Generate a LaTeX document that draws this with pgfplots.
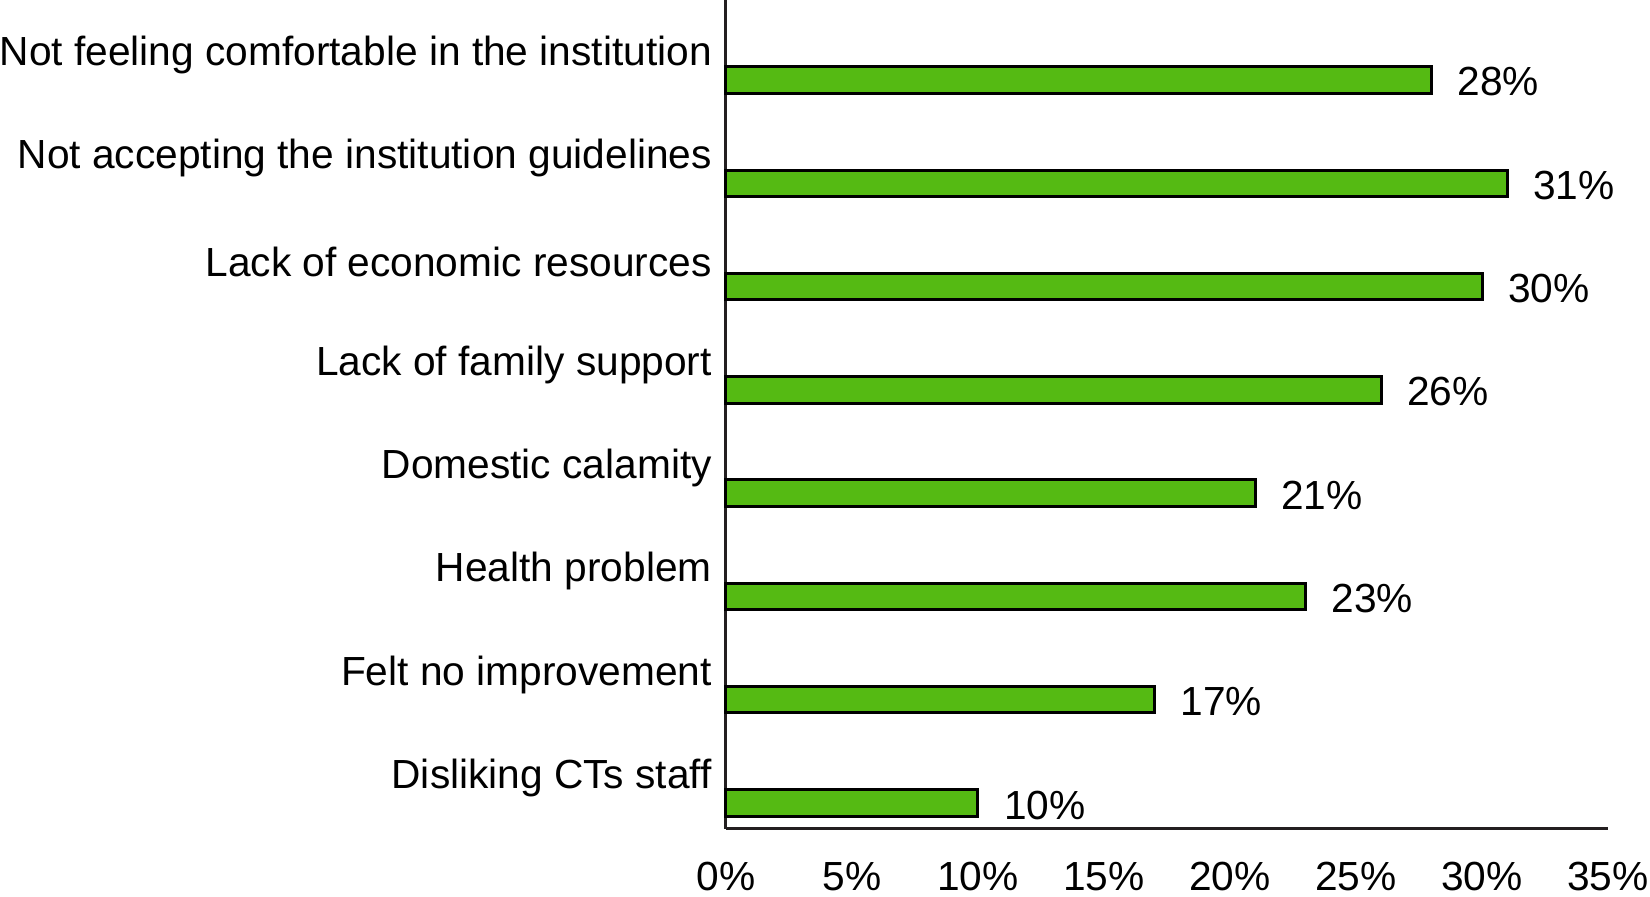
\documentclass[border=0pt]{standalone}
\usepackage{fontspec}
\setmainfont{Liberation Sans}
\usepackage{pgfplots}
\pgfplotsset{compat=1.18}
\definecolor{barg}{RGB}{85,186,19}
\definecolor{axc}{RGB}{35,31,32}
\begin{document}
\fontsize{12.2}{14.6}\selectfont
\begin{tikzpicture}
\begin{axis}[
 at={(0,0)}, anchor=south west,
 scale only axis, width=264.6pt, height=248.7pt,
 xmin=0, xmax=35, ymin=-0.251, ymax=7.774,
 axis lines*=left,
 axis line style={line width=0.9pt, draw=axc},
 xtick={0,5,...,35},
 xticklabel={\pgfmathprintnumber{\tick}\%},
 ytick={0,...,7},
 yticklabels={Disliking CTs staff, Felt no improvement, Health problem, Domestic calamity, Lack of family support, Lack of economic resources, Not accepting the institution guidelines, Not feeling comfortable in the institution},
 major tick length=0pt,
 tick style={draw=none},
 /pgf/number format/assume math mode=true,
 tick label style={font=\fontsize{12.2}{14.6}\selectfont},
 yticklabel style={anchor=east, yshift=7.5pt, xshift=0pt},
 xticklabel style={anchor=north, yshift=-5.8pt},
 xbar, bar width=7.9pt,
 point meta=x,
 nodes near coords={\pgfmathprintnumber{\pgfplotspointmeta}\%},
 nodes near coords style={anchor=west, xshift=3.3pt, yshift=-0.6pt, font=\fontsize{12.2}{14.6}\selectfont, text=black},
 clip=false,
]
\addplot[fill=barg, draw=black, line width=0.9pt] coordinates {(10,0) (17,1) (23,2) (21,3) (26,4) (30,5) (31,6) (28,7)};
\end{axis}
\pgfresetboundingbox
\path[use as bounding box] (-217.8pt,-20.4pt) rectangle (277.2pt,248.7pt);
\end{tikzpicture}
\end{document}
